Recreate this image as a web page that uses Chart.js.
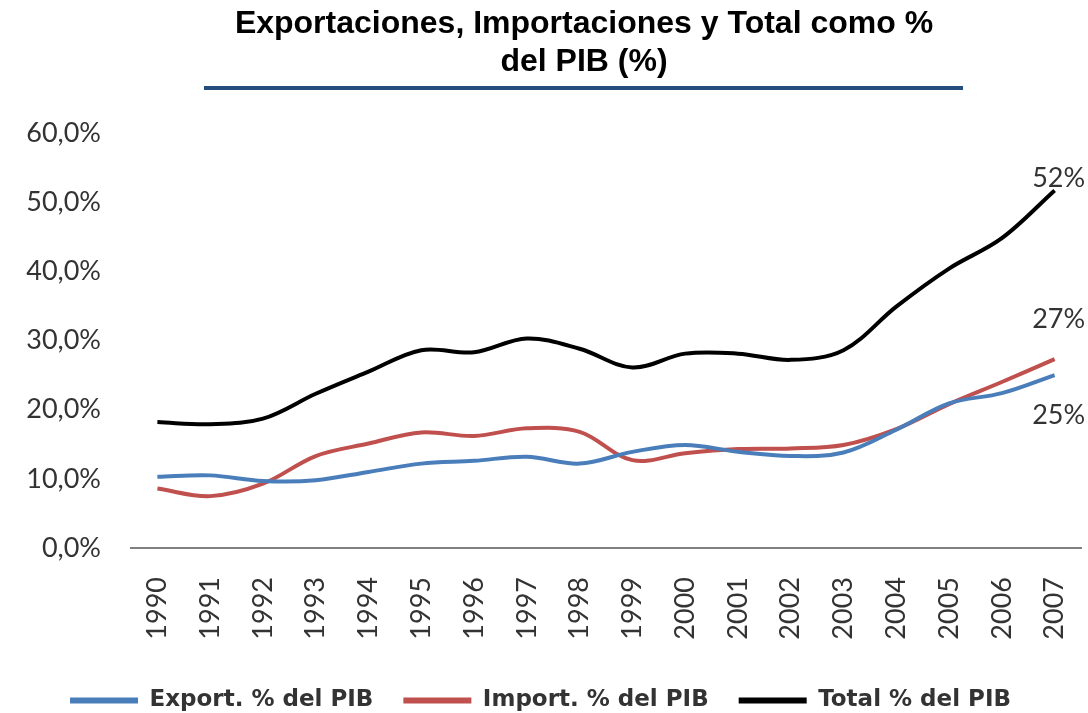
<!DOCTYPE html>
<html lang="es">
<head>
  <meta charset="UTF-8">
  <title>Exportaciones, Importaciones y Total como % del PIB</title>
  <script src="https://cdn.jsdelivr.net/npm/chart.js"></script>
  <style>
    html, body { margin: 0; padding: 0; background: #fff; }
    #wrap { width: 1088px; height: 713px; }
  </style>
</head>
<body>
  <div id="wrap"><canvas id="myChart"></canvas></div>

  <script>
    // datos
    const years = ['1990', '1991', '1992', '1993', '1994', '1995', '1996', '1997', '1998',
                   '1999', '2000', '2001', '2002', '2003', '2004', '2005', '2006', '2007'];
    const exportPct = [10.3, 10.5, 9.7, 9.8, 11.0, 12.2, 12.6, 13.2, 12.2,
                       13.9, 14.9, 13.9, 13.3, 13.8, 17.1, 20.9, 22.4, 25.0];
    const importPct = [8.6, 7.5, 9.3, 13.3, 15.1, 16.7, 16.2, 17.3, 16.8,
                       12.7, 13.7, 14.3, 14.4, 14.9, 17.2, 20.8, 24.0, 27.3];
    const totalPct = [18.2, 17.9, 18.7, 22.3, 25.5, 28.6, 28.3, 30.3, 28.8,
                      26.1, 28.1, 28.1, 27.2, 28.6, 34.9, 40.4, 44.8, 51.7];
    const yTicks = [0, 10, 20, 30, 40, 50, 60];
    const titleLines = ['Exportaciones, Importaciones y Total como %', 'del PIB (%)'];

    const textColor = '#333333';

    // titulo con linea azul debajo
    const titlePlugin = {
      id: 'titleLines',
      afterDraw(chart) {
        const ctx = chart.ctx;
        ctx.save();
        ctx.fillStyle = '#000';
        ctx.font = 'bold 32px "Liberation Sans"';
        ctx.textAlign = 'center';
        ctx.textBaseline = 'middle';
        ctx.fillText(titleLines[0], 584, 24);
        ctx.fillText(titleLines[1], 584, 62);
        ctx.strokeStyle = '#254E7E';
        ctx.lineWidth = 4;
        ctx.beginPath();
        ctx.moveTo(204, 88);
        ctx.lineTo(963, 88);
        ctx.stroke();
        ctx.restore();
      }
    };

    // etiquetas del ultimo valor
    const endLabels = {
      id: 'endLabels',
      afterDatasetsDraw(chart) {
        const ctx = chart.ctx;
        const offsets = [40, -40, -12];
        ctx.save();
        ctx.fillStyle = textColor;
        ctx.font = '27px Lato';
        ctx.textAlign = 'center';
        ctx.textBaseline = 'middle';
        chart.data.datasets.forEach((ds, i) => {
          const pts = chart.getDatasetMeta(i).data;
          const p = pts[pts.length - 1];
          const v = ds.data[ds.data.length - 1];
          ctx.fillText(Math.round(v) + '%', p.x + 4, p.y + offsets[i]);
        });
        ctx.restore();
      }
    };

    const ctx = document.getElementById('myChart').getContext('2d');
    const myChart = new Chart(ctx, {
      type: 'line',
      data: {
        labels: years,
        datasets: [
          {
            label: 'Export. % del PIB',
            data: exportPct,
            borderColor: '#4A7EBB',
            backgroundColor: '#4A7EBB',
            borderWidth: 4,
            pointRadius: 0,
            tension: 0.35
          },
          {
            label: 'Import. % del PIB',
            data: importPct,
            borderColor: '#C0504D',
            backgroundColor: '#C0504D',
            borderWidth: 4,
            pointRadius: 0,
            tension: 0.35
          },
          {
            label: 'Total % del PIB',
            data: totalPct,
            borderColor: '#000000',
            backgroundColor: '#000000',
            borderWidth: 4,
            pointRadius: 0,
            tension: 0.35
          }
        ]
      },
      options: {
        responsive: true,
        maintainAspectRatio: false,
        animation: false,
        layout: { padding: { top: 133, left: 0, right: 7, bottom: -9 } },
        plugins: {
          title: { display: false },
          tooltip: { enabled: false },
          legend: {
            position: 'bottom',
            labels: {
              boxWidth: 68,
              boxHeight: 6,
              padding: 30,
              color: textColor,
              font: { family: 'DejaVu Sans', size: 23, weight: 'bold' },
              generateLabels(chart) {
                return Chart.defaults.plugins.legend.labels.generateLabels(chart)
                  .map(item => Object.assign(item, { lineWidth: 0 }));
              }
            }
          }
        },
        scales: {
          x: {
            offset: true,
            grid: { display: false, drawTicks: false },
            border: { display: true, color: '#808080', width: 2 },
            ticks: {
              color: textColor,
              font: { family: 'Lato', size: 27 },
              minRotation: 90,
              maxRotation: 90,
              padding: 29,
              autoSkip: false
            },
            afterFit(scale) {
              scale.height = 111;
              scale.paddingLeft = 0;
              scale.paddingRight = 0;
            }
          },
          y: {
            min: 0,
            max: 60,
            afterBuildTicks(scale) { scale.ticks = yTicks.map(v => ({ value: v })); },
            grid: { display: false, drawTicks: false },
            border: { display: false },
            ticks: {
              color: textColor,
              font: { family: 'Lato', size: 27 },
              padding: 30,
              callback: v => v.toFixed(1).replace('.', ',') + '%'
            },
            afterFit(scale) { scale.width = 131; }
          }
        }
      },
      plugins: [titlePlugin, endLabels]
    });
  </script>
</body>
</html>
